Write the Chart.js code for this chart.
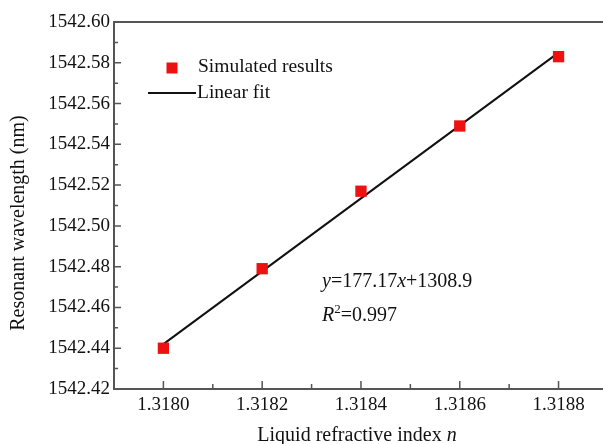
<!DOCTYPE html>
<html><head><meta charset="utf-8">
<script src="https://cdn.jsdelivr.net/npm/chart.js@4"></script>
<style>html,body{margin:0;padding:0;background:#fff}canvas{display:block}</style>
</head><body>
<canvas id="c" width="603" height="444"></canvas>
<script>
// ---- data ----
const refractiveIndex = [1.3180, 1.3182, 1.3184, 1.3186, 1.3188];
const simulatedWavelength = [1542.440, 1542.479, 1542.517, 1542.549, 1542.583];
const fitIndex = [1.3180, 1.3188];
const fitWavelength = [1542.442, 1542.585];
const xTickValues = [1.3180, 1.3182, 1.3184, 1.3186, 1.3188];
const yTickValues = [1542.42, 1542.44, 1542.46, 1542.48, 1542.50, 1542.52, 1542.54, 1542.56, 1542.58, 1542.60];
const seriesLabels = ['Simulated results', 'Linear fit'];
const xTitleParts = [['Liquid refractive index ', false], ['n', true]];
const yTitleText = 'Resonant wavelength (nm)';
const equationParts = [['y', true], ['=177.17', false], ['x', true], ['+1308.9', false]];
const r2Parts = [['R', true], ['2', 'sup'], ['=0.997', false]];

const FONT = "'Liberation Serif', 'Times New Roman', serif";
const AXIS = '#555';
const RED = '#ee1111';

function drawParts(ctx, parts, x, y, size) {
  let cx = x;
  for (const [t, st] of parts) {
    if (st === 'sup') {
      ctx.font = `${Math.round(size*0.65)}px ${FONT}`;
      ctx.fillText(t, cx, y - size*0.38);
    } else {
      ctx.font = `${st ? 'italic ' : ''}${size}px ${FONT}`;
      ctx.fillText(t, cx, y);
    }
    cx += ctx.measureText(t).width;
  }
  return cx - x;
}
function measureParts(ctx, parts, size) {
  let w = 0;
  for (const [t, st] of parts) {
    ctx.font = `${st === true ? 'italic ' : ''}${st === 'sup' ? Math.round(size*0.65) : size}px ${FONT}`;
    w += ctx.measureText(t).width;
  }
  return w;
}

const decor = {
  id: 'decor',
  afterDatasetsDraw(chart) {
    const {ctx, chartArea: a, scales: {x, y}} = chart;
    ctx.save();
    // top border and bottom axis continuation to the canvas edge
    ctx.strokeStyle = AXIS; ctx.lineWidth = 2;
    ctx.beginPath();
    ctx.moveTo(a.left - 1, a.top); ctx.lineTo(chart.width, a.top);
    ctx.moveTo(a.right - 1, a.bottom); ctx.lineTo(chart.width, a.bottom);
    ctx.stroke();
    // inward ticks
    ctx.lineWidth = 1.5;
    ctx.beginPath();
    xTickValues.forEach((v, i) => {
      const px = x.getPixelForValue(v);
      ctx.moveTo(px, a.bottom); ctx.lineTo(px, a.bottom - 8);
      if (i < xTickValues.length - 1) {
        const m = x.getPixelForValue((v + xTickValues[i+1]) / 2);
        ctx.moveTo(m, a.bottom); ctx.lineTo(m, a.bottom - 5);
      }
    });
    yTickValues.forEach((v, i) => {
      const py = y.getPixelForValue(v);
      ctx.moveTo(a.left, py); ctx.lineTo(a.left + 7, py);
      if (i < yTickValues.length - 1) {
        const m = y.getPixelForValue((v + yTickValues[i+1]) / 2);
        ctx.moveTo(a.left, m); ctx.lineTo(a.left + 4, m);
      }
    });
    ctx.stroke();

    ctx.textBaseline = 'alphabetic';
    ctx.textAlign = 'left';
    // legend
    ctx.fillStyle = RED;
    ctx.fillRect(166.5, 62.5, 11, 11);
    ctx.fillStyle = '#111';
    ctx.font = `19.5px ${FONT}`;
    ctx.fillText(seriesLabels[0], 198, 72);
    ctx.strokeStyle = '#111'; ctx.lineWidth = 2;
    ctx.beginPath(); ctx.moveTo(148, 93); ctx.lineTo(196, 93); ctx.stroke();
    ctx.fillText(seriesLabels[1], 197, 98);

    // equation
    drawParts(ctx, equationParts, 322, 287, 20);
    drawParts(ctx, r2Parts, 322, 321, 20);

    // x title
    const w = measureParts(ctx, xTitleParts, 20);
    drawParts(ctx, xTitleParts, 357 - w/2, 441, 20);

    // y title
    ctx.save();
    ctx.translate(24, 223);
    ctx.rotate(-Math.PI/2);
    ctx.textAlign = 'center';
    ctx.font = `20px ${FONT}`;
    ctx.fillText(yTitleText, 0, 0);
    ctx.restore();
    ctx.restore();
  }
};

new Chart(document.getElementById('c'), {
  type: 'scatter',
  data: {
    datasets: [
      {
        label: seriesLabels[0],
        data: refractiveIndex.map((v, i) => ({x: v, y: simulatedWavelength[i]})),
        pointStyle: 'rect',
        pointRadius: 8,
        pointHoverRadius: 8,
        backgroundColor: RED,
        borderColor: RED,
        borderWidth: 0,
        showLine: false,
        clip: false,
        order: 0
      },
      {
        label: seriesLabels[1],
        type: 'line',
        data: fitIndex.map((v, i) => ({x: v, y: fitWavelength[i]})),
        borderColor: '#111',
        borderWidth: 2,
        pointRadius: 0,
        fill: false,
        order: 1
      }
    ]
  },
  options: {
    responsive: false,
    animation: false,
    devicePixelRatio: 1,
    layout: {autoPadding: false, padding: {top: 22, right: 0, left: 0, bottom: 0}},
    plugins: {legend: {display: false}, tooltip: {enabled: false}},
    scales: {
      x: {
        type: 'linear',
        min: 1.31790,
        max: 1.31889,
        grid: {display: false, drawTicks: false},
        border: {display: true, color: AXIS, width: 2},
        ticks: {
          font: {family: FONT, size: 19},
          color: '#111',
          padding: 5,
          maxRotation: 0,
          callback: v => Number(v).toFixed(4)
        },
        afterBuildTicks: s => { s.ticks = xTickValues.map(v => ({value: v})); },
        afterFit: s => { s.height = 55; }
      },
      y: {
        type: 'linear',
        min: 1542.42,
        max: 1542.60,
        grid: {display: false, drawTicks: false},
        border: {display: true, color: AXIS, width: 2},
        ticks: {
          font: {family: FONT, size: 19},
          color: '#111',
          padding: 4,
          callback: v => Number(v).toFixed(2)
        },
        afterBuildTicks: s => { s.ticks = yTickValues.map(v => ({value: v})); },
        afterFit: s => { s.width = 114; }
      }
    }
  },
  plugins: [decor]
});
</script>
</body></html>
